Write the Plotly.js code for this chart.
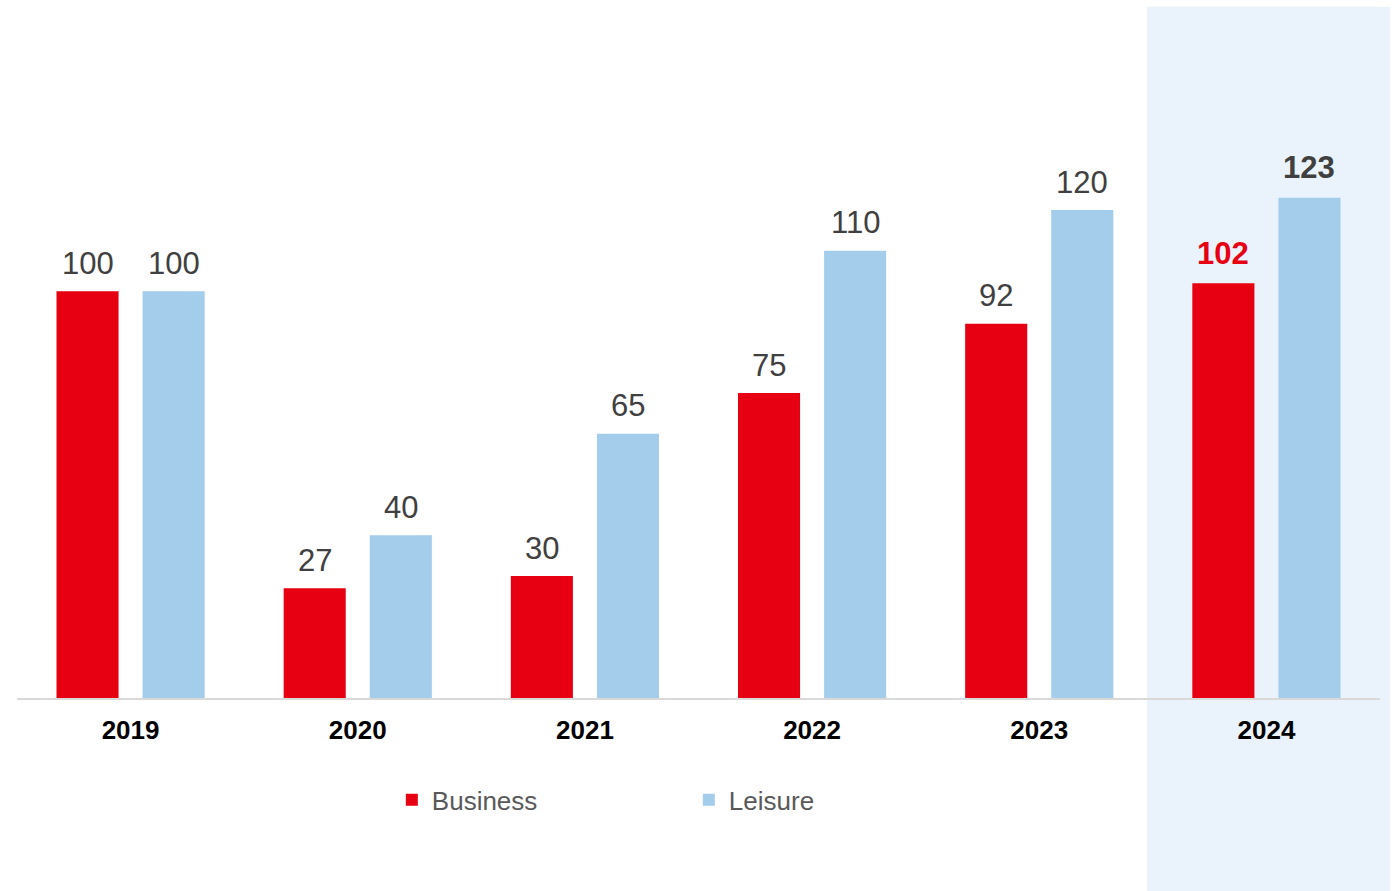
<!DOCTYPE html>
<html>
<head>
<meta charset="utf-8">
<script src="https://cdn.plot.ly/plotly-3.0.1.min.js"></script>
<style>html,body{margin:0;padding:0;background:#fff;}#chart{width:1397px;height:891px;}</style>
</head>
<body>
<div id="chart"></div>
<script>
const years = ['2019', '2020', '2021', '2022', '2023', '2024'];
const business = [100, 27, 30, 75, 92, 102];
const leisure = [100, 40, 65, 110, 120, 123];
const seriesNames = ['Business', 'Leisure'];

const RED = '#E60012';
const BLUE = '#A3CDEB';
const LABEL_GREY = '#404040';
const FONT = 'Liberation Sans, Arial, sans-serif';

const traces = [
  {type: 'bar', name: seriesNames[0], x: years, y: business, marker: {color: RED}, hoverinfo: 'skip'},
  {type: 'bar', name: seriesNames[1], x: years, y: leisure, marker: {color: BLUE}, hoverinfo: 'skip'}
];

const annotations = [];
const lastIdx = years.length - 1;
[business, leisure].forEach((vals, s) => {
  vals.forEach((v, i) => {
    const highlight = i === lastIdx;
    annotations.push({
      x: i, y: v, xref: 'x', yref: 'y',
      text: String(v), showarrow: false,
      xshift: s === 0 ? -43 : 43,
      yshift: highlight ? 30 : 28,
      yanchor: 'middle', xanchor: 'center',
      font: {family: FONT, size: 31, color: highlight ? (s === 0 ? RED : LABEL_GREY) : LABEL_GREY, weight: highlight ? 'bold' : 'normal'}
    });
  });
});

const layout = {
  width: 1397, height: 891,
  margin: {l: 17, r: 17, t: 88, b: 193},
  paper_bgcolor: '#ffffff', plot_bgcolor: 'rgba(0,0,0,0)',
  barmode: 'group', bargap: 0.242, bargroupgap: 0.279,
  showlegend: true,
  legend: {
    orientation: 'h', x: 0.275, xanchor: 'left', y: -0.167, yanchor: 'middle',
    font: {family: FONT, size: 26, color: '#595959'},
    entrywidth: 252, entrywidthmode: 'pixels',
    bgcolor: 'rgba(0,0,0,0)', itemclick: false
  },
  xaxis: {
    type: 'category', range: [-0.5, 5.5],
    showline: true, linecolor: '#D9D9D9', linewidth: 2,
    showgrid: false, zeroline: false,
    ticks: 'outside', ticklen: 8, tickcolor: 'rgba(0,0,0,0)',
    tickfont: {family: FONT, size: 26, color: '#000000', weight: 'bold'}
  },
  yaxis: {
    range: [0, 150], visible: false, showgrid: false, zeroline: false
  },
  shapes: [{
    type: 'rect', xref: 'paper', yref: 'paper', layer: 'below',
    x0: 0.829, x1: 1.0073, y0: -0.32, y1: 1.133,
    fillcolor: '#EAF3FB', line: {width: 0}
  }],
  annotations: annotations
};

Plotly.newPlot('chart', traces, layout, {displayModeBar: false, staticPlot: true});
</script>
</body>
</html>
